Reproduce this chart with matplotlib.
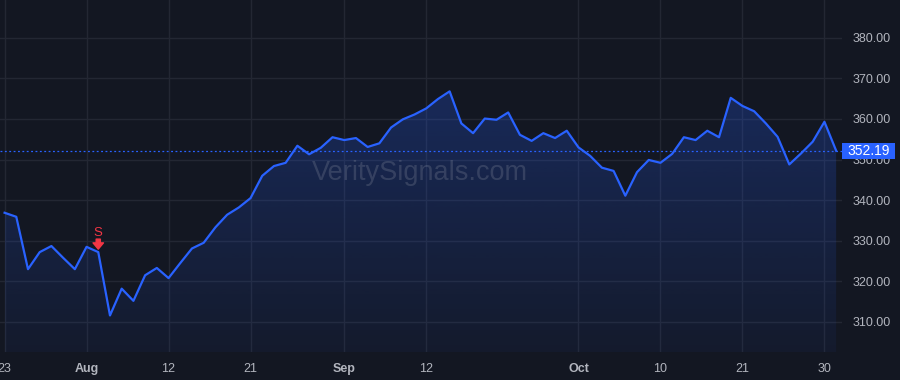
import numpy as np
import pandas as pd
import matplotlib
matplotlib.use('Agg')
import matplotlib.pyplot as plt
from matplotlib.patches import Rectangle
from matplotlib.transforms import offset_copy, IdentityTransform

# ── data: daily closes, 23 Jul 2024 – 31 Oct 2024 (trading days) ──────────
dates = pd.bdate_range('2024-07-23', '2024-10-31').drop(pd.Timestamp('2024-09-02'))
closes = [
    336.9, 335.9, 323.0, 327.2, 328.7, 325.8, 323.0, 328.5, 327.2, 311.6,
    318.2, 315.2, 321.5, 323.3, 320.8, 324.5, 328.1, 329.5, 333.3, 336.4,
    338.2, 340.5, 346.0, 348.4, 349.2, 353.4, 351.3, 352.9, 355.5, 354.8,
    355.3, 353.1, 354.0, 357.9, 359.9, 361.1, 362.6, 364.9, 366.8, 358.9,
    356.5, 360.1, 359.8, 361.6, 356.1, 354.6, 356.5, 355.3, 357.1, 353.0,
    350.9, 348.0, 347.2, 341.1, 346.9, 349.9, 349.2, 351.4, 355.5, 354.8,
    357.1, 355.5, 365.2, 363.2, 361.9, 358.9, 355.6, 348.8, 351.5, 354.4,
    359.3, 352.19,
]
tick_dates = ['2024-07-23', '2024-08-01', '2024-08-12', '2024-08-21', '2024-09-03',
              '2024-09-12', '2024-10-01', '2024-10-10', '2024-10-21', '2024-10-30']
tick_labels = ['23', 'Aug', '12', '21', 'Sep', '12', 'Oct', '10', '21', '30']
month_labels = {'Aug', 'Sep', 'Oct'}
price_ticks = [310, 320, 330, 340, 350, 360, 370, 380]
signal_date = '2024-08-02'
signal_text = 'S'
watermark = 'VeritySignals.com'

# ── style ──────────────────────────────────────────────────────────────────
BG = '#131722'
GRID = '#232733'
LINE = '#2962ff'
TXT = '#b2b5be'
RED = '#f23645'
plt.rcParams['font.family'] = ['Liberation Sans', 'DejaVu Sans']

x = np.arange(len(closes))
y = np.array(closes)
last = closes[-1]

fig = plt.figure(figsize=(9, 3.8), dpi=100, facecolor=BG)
ax = fig.add_axes([0, 28 / 380, 842 / 900, 352 / 380], facecolor=BG)
ax.set_xlim(-0.39, 71.5)
ax.set_ylim(302.6, 389.3)

# grid
tick_idx = [dates.get_loc(pd.Timestamp(d)) for d in tick_dates]
for t in price_ticks:
    ax.axhline(t, color=GRID, lw=1, zorder=0)
for i in tick_idx:
    ax.axvline(i, color=GRID, lw=1, zorder=0)

# gradient area
ymin = ax.get_ylim()[0]
poly = ax.fill_between(x, y, ymin, color='none', lw=0)
grad = np.zeros((256, 1, 4))
grad[..., :3] = matplotlib.colors.to_rgb(LINE)
grad[:, 0, 3] = np.linspace(0.05, 0.25, 256)
im = ax.imshow(grad, aspect='auto', origin='lower',
               extent=[x[0], x[-1], ymin, y.max()], zorder=1)
im.set_clip_path(poly.get_paths()[0], transform=ax.transData)

ax.plot(x, y, color=LINE, lw=1.6, zorder=3)

# watermark
ax.text(35.5, 346.6, watermark, color=TXT, alpha=0.2, fontsize=19.5,
        ha='center', va='center', zorder=2)

# last price line + label box on the price scale
ax.axhline(last, color=LINE, lw=0.9, ls=(0, (1.5, 2)), zorder=2)
_, yd = ax.transData.transform((0, last))
fig.add_artist(Rectangle((842, yd - 8), 53, 16, transform=IdentityTransform(),
                         fc=LINE, ec='none', zorder=4))
fig.text(868.5 / 900, yd / 380, f'{last:.2f}', color='white', fontsize=10,
         ha='center', va='center', zorder=5)

# sell signal marker
si = dates.get_loc(pd.Timestamp(signal_date))
sv = closes[si]
tip = offset_copy(ax.transData, fig=fig, y=3, units='dots')
tail = offset_copy(ax.transData, fig=fig, y=13, units='dots')
ax.annotate('', xy=(si, sv), xycoords=tip, xytext=(si, sv), textcoords=tail,
            arrowprops=dict(arrowstyle='simple,head_length=0.45,head_width=0.75,tail_width=0.3',
                            color=RED, shrinkA=0, shrinkB=0, mutation_scale=10))
ax.text(si, sv, signal_text, transform=offset_copy(ax.transData, fig=fig, y=19, units='dots'),
        color=RED, fontsize=9.5, ha='center', va='center')

# axes
ax.yaxis.tick_right()
ax.set_yticks(price_ticks)
ax.set_yticklabels([f'{t:.2f}' for t in price_ticks])
ax.set_xticks(tick_idx)
ax.set_xticklabels(tick_labels)
for lab in ax.get_xticklabels():
    if lab.get_text() in month_labels:
        lab.set_fontweight('bold')
ax.tick_params(axis='both', length=0, colors=TXT, labelsize=9)
ax.tick_params(axis='y', pad=7.5)
ax.tick_params(axis='x', pad=8)
for s in ax.spines.values():
    s.set_visible(False)

fig.savefig('out.png', dpi=100, facecolor=BG)
